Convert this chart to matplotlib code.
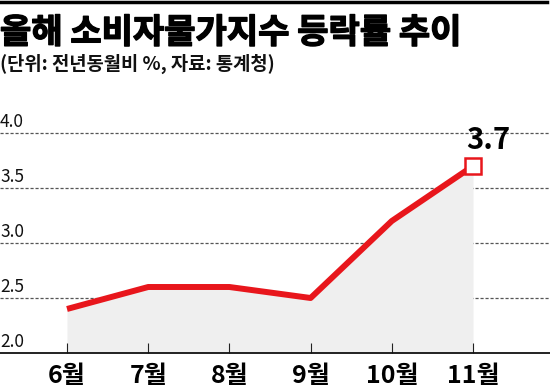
import matplotlib
matplotlib.use("Agg")
import matplotlib.pyplot as plt
from matplotlib.lines import Line2D
import matplotlib.patheffects as pe

plt.rcParams['font.family'] = ['Noto Sans CJK KR', 'DejaVu Sans']

months = ["6월", "7월", "8월", "9월", "10월", "11월"]
values = [2.4, 2.6, 2.6, 2.5, 3.2, 3.7]
yticks = [2.0, 2.5, 3.0, 3.5, 4.0]
ytick_labels = ["2.0", "2.5", "3.0", "3.5", "4.0"]
title = "올해 소비자물가지수 등락률 추이"
subtitle = "(단위: 전년동월비 %, 자료: 통계청)"
last_label = "3.7"

W, H = 550, 390
fig = plt.figure(figsize=(W / 100, H / 100), dpi=100)
base_px = 353
ax = fig.add_axes([0, (H - base_px) / H, 1, (base_px - 100) / H])

x = list(range(len(months)))
step = 81.2
ax.set_xlim(-67 / step, (550 - 67) / step)
ax.set_ylim(2.0, 2.0 + (base_px - 100) / 110)

ax.fill_between(x, values, 2.0, color="#efefef", zorder=1, linewidth=0)
for yv in yticks[1:]:
    ax.axhline(yv, color="#555555", lw=0.9, ls=(0, (2.5, 1.5)), zorder=0.5)
ax.plot(x, values, color="#e8161c", lw=4.3, solid_capstyle="butt", zorder=3)
ax.plot(x[-1], values[-1], marker="s", ms=12, mfc="white", mec="#e8161c", mew=1.8, zorder=4)
ax.annotate(last_label, (x[-1], values[-1]), xytext=(11, 12), textcoords="offset points",
            ha="center", va="baseline", fontsize=21, fontweight="bold", color="black")

for s in ["top", "right", "left"]:
    ax.spines[s].set_visible(False)
ax.spines["bottom"].set_linewidth(1.3)
ax.spines["bottom"].set_color("#111111")

ax.set_xticks(x)
ax.set_xticklabels(months, fontsize=18, fontweight="bold")
ax.tick_params(axis="x", direction="in", length=7, width=0.8, pad=8, color="#222222")
ax.set_yticks([])
for yv, lab in zip(yticks, ytick_labels):
    ax.text(0.0, yv + 0.055, lab, transform=ax.get_yaxis_transform(), ha="left", va="baseline",
            fontsize=12.5, color="#111111")

fig.add_artist(Line2D([0, 0.995], [1 - 1.5 / H, 1 - 1.5 / H], color="black", lw=2.5,
                      transform=fig.transFigure))
fig.text(0.0, 1 - 15 / H, title, ha="left", va="top", fontsize=24.5, fontweight="black",
         color="black", path_effects=[pe.withStroke(linewidth=1.0, foreground="black")])
fig.text(0.0, 1 - 54 / H, subtitle, ha="left", va="top", fontsize=13.5, fontweight="bold", color="#111111")

fig.savefig("out.png", dpi=100)
